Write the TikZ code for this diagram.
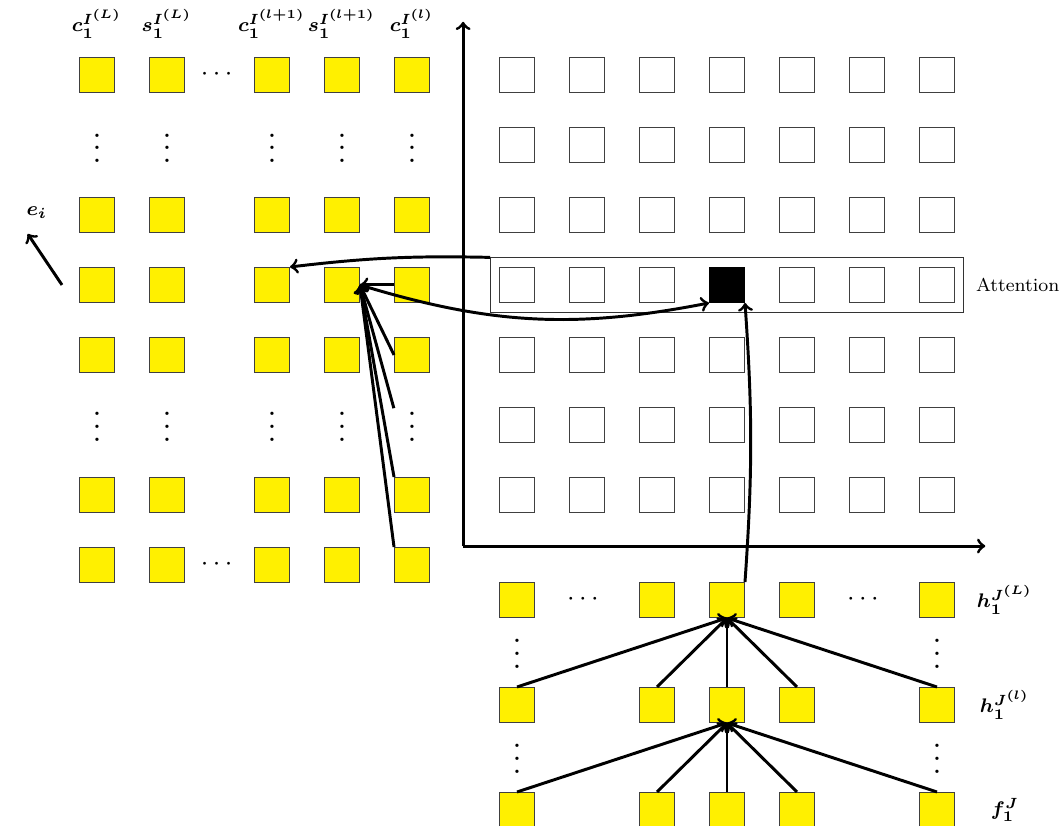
\documentclass[tikz,border=0pt]{standalone}
\usepackage{bm}
\usetikzlibrary{positioning,fit}

\definecolor{cellyellow}{RGB}{255,240,0}
% vertical dots whose box hugs the three dots
\newcommand{\colvdots}{\raisebox{0pt}[9.3pt][0pt]{$\vdots$}}

\begin{document}
\begin{tikzpicture}[
    cell/.style={draw=black!75, thin, minimum size=.5cm, inner sep=0pt},
    yel/.style={cell, fill=cellyellow},
    wht/.style={cell, fill=white},
    vdts/.style={scale=1.3, minimum size=.385cm, inner sep=0pt},
    hdts/.style={scale=1.1, inner sep=0pt},
    lab/.style={font=\footnotesize},
    conn/.style={->, very thick}
        ]

    \path [use as bounding box] (-1.386,1.071) rectangle (13.8,-10.729);

    % column heads of the left stack
    \node [lab] (tcL) at (0,.73)   {$\bm{c_1^{I^{(L)}}}$};
    \node [lab] (tsL) at (1,.73)   {$\bm{s_1^{I^{(L)}}}$};
    \node [lab] (tcP) at (2.5,.73) {$\bm{c_1^{I^{(l+1)}}}$};
    \node [lab] (tsP) at (3.5,.73) {$\bm{s_1^{I^{(l+1)}}}$};
    \node [lab] (tcl) at (4.5,.73) {$\bm{c_1^{I^{(l)}}}$};

    % left stack
    \foreach \r in {0,2,3,4,6,7} {
        \node [yel] (cL\r) at (0,-\r)   {};
        \node [yel] (sL\r) at (1,-\r)   {};
        \node [yel] (cP\r) at (2.5,-\r) {};
        \node [yel] (sP\r) at (3.5,-\r) {};
        \node [yel] (cl\r) at (4.5,-\r) {};
    }
    \foreach \r/\y in {1/-1.04, 5/-5.02} {
        \node [vdts] (vcL\r) at (0,\y)   {\colvdots};
        \node [vdts] (vsL\r) at (1,\y)   {\colvdots};
        \node [vdts] (vcP\r) at (2.5,\y) {\colvdots};
        \node [vdts] (vsP\r) at (3.5,\y) {\colvdots};
        \node [vdts] (vcl\r) at (4.5,\y) {\colvdots};
    }
    \node [hdts] (hd0) at (1.71,0)  {$\cdots$};
    \node [hdts] (hd7) at (1.71,-7) {$\cdots$};

    \node [lab] (ei) at (-.86,-1.97) {$\bm{e_i}$};
    \coordinate (estart) at (-.5,-3);
    \coordinate (eend) at (-.99,-2.27);
    \draw [conn] (estart) -- (eend);

    % axes
    \coordinate (orig) at (5.23,-6.73);
    \coordinate (ytop) at (5.23,.76);
    \coordinate (xend) at (12.69,-6.73);
    \draw [conn] (orig) -- (ytop);
    \draw [conn] (orig) -- (xend);

    % attention grid
    \foreach \c in {6,...,12}
        \foreach \r in {0,...,6}
            \node [wht] (a\c-\r) at (\c,-\r) {};
    \fill [black] (a9-3.south west) rectangle (a9-3.north east);

    \node [draw=black!80, thin, fit=(a6-3)(a12-3), inner xsep=.12cm, inner ysep=.13cm] (attn) {};
    \node [font=\fontsize{7.6}{9}\selectfont, right=.05cm of attn] (attlab) {Attention};

    % bottom stack
    \foreach \c in {6,8,9,10,12} {
        \node [yel] (hL\c) at (\c,-7.5)  {};
        \node [yel] (hl\c) at (\c,-9)    {};
        \node [yel] (f\c)  at (\c,-10.5) {};
    }
    \node [hdts] (bd1) at (6.94,-7.5)  {$\cdots$};
    \node [hdts] (bd2) at (10.94,-7.5) {$\cdots$};
    \node [vdts] (bv1) at (6,-8.26)  {\colvdots};
    \node [vdts] (bv2) at (12,-8.26) {\colvdots};
    \node [vdts] (bv3) at (6,-9.76)  {\colvdots};
    \node [vdts] (bv4) at (12,-9.76) {\colvdots};

    \node [lab] (thL) at (12.97,-7.5)  {$\bm{h_1^{J^{(L)}}}$};
    \node [lab] (thl) at (12.97,-9)    {$\bm{h_1^{J^{(l)}}}$};
    \node [lab] (tf)  at (12.97,-10.5) {$\bm{f_1^{J}}$};

    % connections
    \draw [conn] (cl3.west) -- (sP3.east);
    \draw [conn] (cl4.west) -- (sP3.east);
    \draw [conn] (vcl5.north west) -- (sP3.east);
    \draw [conn] (cl6.north west) -- (sP3.east);
    \draw [conn] (cl7.north west) -- (sP3.east);

    \draw [conn] (sP3.east) to [bend right=14] (a9-3.south west);
    \draw [conn] (attn.north west) to [bend right=4] (cP3.north east);
    \draw [conn] (hL9.north east) to [bend right=4] (a9-3.south east);

    \foreach \c in {6,8,9,10,12} {
        \draw [conn] (hl\c.north) -- (hL9.south);
        \draw [conn] (f\c.north) -- (hl9.south);
    }

\end{tikzpicture}
\end{document}
